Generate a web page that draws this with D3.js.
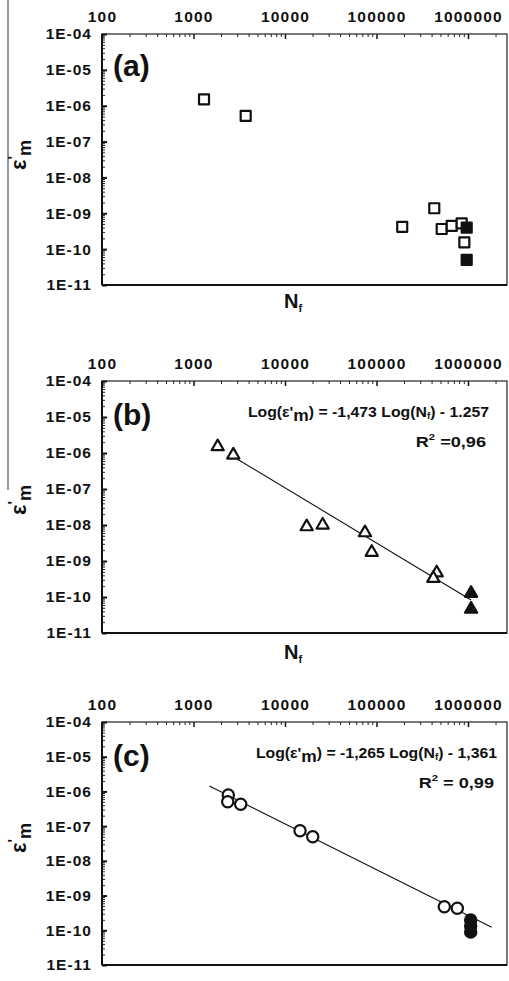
<!DOCTYPE html>
<html><head><meta charset="utf-8">
<script src="https://cdn.jsdelivr.net/npm/d3@7"></script>
<style>
body{margin:0;background:#fff;}
svg{display:block;}
text{font-family:"Liberation Sans",Arial,sans-serif;font-weight:bold;fill:#111;}
</style></head>
<body>
<svg id="c" width="509" height="981"></svg>
<script>
// ---- data ----
const xTickValues = [100, 1000, 10000, 100000, 1000000];
const xTickLabels = ["100", "1000", "10000", "100000", "1000000"];
const yTickValues = [1e-4, 1e-5, 1e-6, 1e-7, 1e-8, 1e-9, 1e-10, 1e-11];
const yTickLabels = ["1E-04", "1E-05", "1E-06", "1E-07", "1E-08", "1E-09", "1E-10", "1E-11"];

// panel (a) squares
const aOpenN = [1303, 3718, 191000, 428000, 516000, 664000, 853000, 912000];
const aOpenE = [1.5e-6, 5.2e-7, 4.2e-10, 1.38e-9, 3.65e-10, 4.43e-10, 5.26e-10, 1.55e-10];
const aFilledN = [968000, 968000];
const aFilledE = [3.97e-10, 5.0e-11];

// panel (b) triangles
const bOpenN = [1838, 2723, 17260, 25800, 74800, 88700, 455000, 418000];
const bOpenE = [1.5e-6, 8.8e-7, 8.97e-9, 1.0e-8, 6.1e-9, 1.75e-9, 4.7e-10, 3.3e-10];
const bFilledN = [1080000, 1080000];
const bFilledE = [1.27e-10, 4.6e-11];
const bFitN = [2723, 1080000];
const bFitE = [7.9e-7, 8.3e-11];

// panel (c) circles
const cOpenN = [2400, 2366, 3280, 14600, 20100, 551000, 764000];
const cOpenE = [7.9e-7, 5.06e-7, 4.25e-7, 7.4e-8, 4.96e-8, 4.77e-10, 4.3e-10];
const cFilledN = [1070000, 1070000, 1070000];
const cFilledE = [1.98e-10, 1.33e-10, 8.9e-11];
const cFitN = [1489, 1815000];
const cFitE = [1.43e-6, 1.22e-10];

// ---- drawing ----
const svg = d3.select("#c");
const L = 102, R = 507;
const x = d3.scaleLog().domain([100, 1e7]).range([L, L + 5 * 91.5]);

function minorTicks(lo, hi) {
  const out = [];
  for (let e = lo; e < hi; e++) for (let k = 2; k <= 9; k++) out.push(k * Math.pow(10, e));
  return out;
}
const xMinor = minorTicks(2, 7).filter(v => x(v) < R);
const yMinor = minorTicks(-11, -4);

function panel(cfg) {
  const y = d3.scaleLog().domain([1e-11, 1e-4]).range([cfg.bottom, cfg.top]);
  const g = svg.append("g");
  const clipId = "clip" + cfg.id;
  svg.append("clipPath").attr("id", clipId).append("rect")
    .attr("x", L).attr("y", cfg.top).attr("width", R - L).attr("height", cfg.bottom - cfg.top);

  // y axis minor ticks
  g.append("g").attr("transform", `translate(${L},0)`)
    .call(d3.axisLeft(y).tickValues(yMinor).tickSize(-3).tickFormat(""))
    .call(s => s.select(".domain").remove())
    .call(s => s.selectAll("line").attr("stroke", "#222").attr("stroke-width", 1));
  // y axis major ticks + labels
  g.append("g").attr("transform", `translate(${L},0)`)
    .call(d3.axisLeft(y).tickValues(yTickValues).tickSize(-5).tickPadding(10)
      .tickFormat((d, i) => yTickLabels[i]))
    .call(s => s.select(".domain").remove())
    .call(s => s.selectAll("line").attr("stroke", "#111").attr("stroke-width", 2))
    .call(s => s.selectAll("text").attr("font-size", 15.5).attr("letter-spacing", 1)
      .attr("font-family", "Liberation Sans, Arial, sans-serif").attr("font-weight", "bold").attr("fill", "#111"));
  // x axis (top) minor ticks
  g.append("g").attr("transform", `translate(0,${cfg.top})`)
    .call(d3.axisTop(x).tickValues(xMinor).tickSize(-3).tickFormat(""))
    .call(s => s.select(".domain").remove())
    .call(s => s.selectAll("line").attr("stroke", "#222").attr("stroke-width", 1));
  g.append("g").attr("transform", `translate(0,${cfg.top})`)
    .call(d3.axisTop(x).tickValues(xTickValues).tickSize(-5).tickPadding(12)
      .tickFormat((d, i) => xTickLabels[i]))
    .call(s => s.select(".domain").remove())
    .call(s => s.selectAll("line").attr("stroke", "#111").attr("stroke-width", 1.5))
    .call(s => s.selectAll("text").attr("font-size", 15.5).attr("letter-spacing", 1.2)
      .attr("font-family", "Liberation Sans, Arial, sans-serif").attr("font-weight", "bold").attr("fill", "#111"));

  // frame
  g.append("rect").attr("x", L).attr("y", cfg.top).attr("width", R - L).attr("height", cfg.bottom - cfg.top)
    .attr("fill", "none").attr("stroke", "#222").attr("stroke-width", 1.2);
  g.append("line").attr("x1", L).attr("x2", L).attr("y1", cfg.top).attr("y2", cfg.bottom)
    .attr("stroke", "#111").attr("stroke-width", 2);
  g.append("line").attr("x1", L).attr("x2", R).attr("y1", cfg.bottom).attr("y2", cfg.bottom)
    .attr("stroke", "#111").attr("stroke-width", 2);

  const plot = g.append("g").attr("clip-path", `url(#${clipId})`);

  // fit line
  if (cfg.fitN) {
    plot.append("path")
      .attr("d", d3.line().x(d => x(d[0])).y(d => y(d[1]))(cfg.fitN.map((n, i) => [n, cfg.fitE[i]])))
      .attr("stroke", "#111").attr("stroke-width", 1.1).attr("fill", "none");
  }
  const sym = d3.symbol().type(cfg.symbol).size(cfg.size);
  plot.selectAll(".o").data(cfg.openN.map((n, i) => [n, cfg.openE[i]])).join("path")
    .attr("transform", d => `translate(${x(d[0])},${y(d[1])})`)
    .attr("d", sym).attr("fill", "#fff").attr("stroke", "#111").attr("stroke-width", 2.2)
    .attr("stroke-linejoin", "round");
  plot.selectAll(".f").data(cfg.filledN.map((n, i) => [n, cfg.filledE[i]])).join("path")
    .attr("transform", d => `translate(${x(d[0])},${y(d[1])})`)
    .attr("d", sym).attr("fill", "#111").attr("stroke", "#111").attr("stroke-width", 2.2)
    .attr("stroke-linejoin", "round");

  // panel letter
  g.append("text").attr("x", 113).attr("y", cfg.top + cfg.letterDy).attr("font-size", 30).text(cfg.letter);

  // y label  ε'm
  const yl = g.append("text").attr("transform", `translate(26,${cfg.yLabelY}) rotate(-90)`)
    .attr("text-anchor", "middle").attr("font-size", 22);
  yl.append("tspan").text("ε");
  yl.append("tspan").attr("font-size", 15).attr("dy", -8).text("'");
  yl.append("tspan").attr("font-size", 18).attr("dy", 13).text("m");

  // x label Nf
  if (cfg.xLabelY) {
    const xl = g.append("text").attr("x", 284).attr("y", cfg.xLabelY).attr("font-size", 20);
    xl.append("tspan").text("N");
    xl.append("tspan").attr("font-size", 11).attr("dy", 4).text("f");
  }

  // equation
  if (cfg.eq) {
    const t = g.append("text").attr("transform", `translate(${cfg.eqX},${cfg.top + 36}) scale(1.09,1)`)
      .attr("text-anchor", "end").attr("font-size", 14.5);
    t.append("tspan").text("Log(ε'");
    t.append("tspan").attr("font-size", 16).attr("dy", 4).text("m");
    t.append("tspan").attr("dy", -4).text(") = " + cfg.eq[0] + " Log(N");
    t.append("tspan").attr("font-size", 9).attr("dy", 2).text("f");
    t.append("tspan").attr("dy", -2).text(") - " + cfg.eq[1]);
    const r = g.append("text").attr("transform", `translate(${cfg.eqX - 3},${cfg.top + 66}) scale(1.25,1)`)
      .attr("text-anchor", "end").attr("font-size", 14.5);
    r.append("tspan").text("R");
    r.append("tspan").attr("font-size", 9).attr("dy", -7).text("2");
    r.append("tspan").attr("dy", 7).text(cfg.eq[2]);
  }
}

// left vertical rule (scan artifact)
svg.append("line").attr("x1", 8).attr("x2", 8).attr("y1", 0).attr("y2", 490)
  .attr("stroke", "#555").attr("stroke-width", 1.2);

panel({id: "a", top: 34, bottom: 285, symbol: d3.symbolSquare, size: 100,
  openN: aOpenN, openE: aOpenE, filledN: aFilledN, filledE: aFilledE,
  letter: "(a)", letterDy: 42, yLabelY: 155, xLabelY: 308});
panel({id: "b", top: 381, bottom: 633, symbol: d3.symbolTriangle, size: 65,
  openN: bOpenN, openE: bOpenE, filledN: bFilledN, filledE: bFilledE,
  fitN: bFitN, fitE: bFitE,
  letter: "(b)", letterDy: 44, yLabelY: 500, xLabelY: 659,
  eq: ["-1,473", "1.257", " =0,96"], eqX: 489});
panel({id: "c", top: 722, bottom: 965, symbol: d3.symbolCircle, size: 100,
  openN: cOpenN, openE: cOpenE, filledN: cFilledN, filledE: cFilledE,
  fitN: cFitN, fitE: cFitE,
  letter: "(c)", letterDy: 44, yLabelY: 838,
  eq: ["-1,265", "1,361", " = 0,99"], eqX: 497});
</script>
</body></html>
